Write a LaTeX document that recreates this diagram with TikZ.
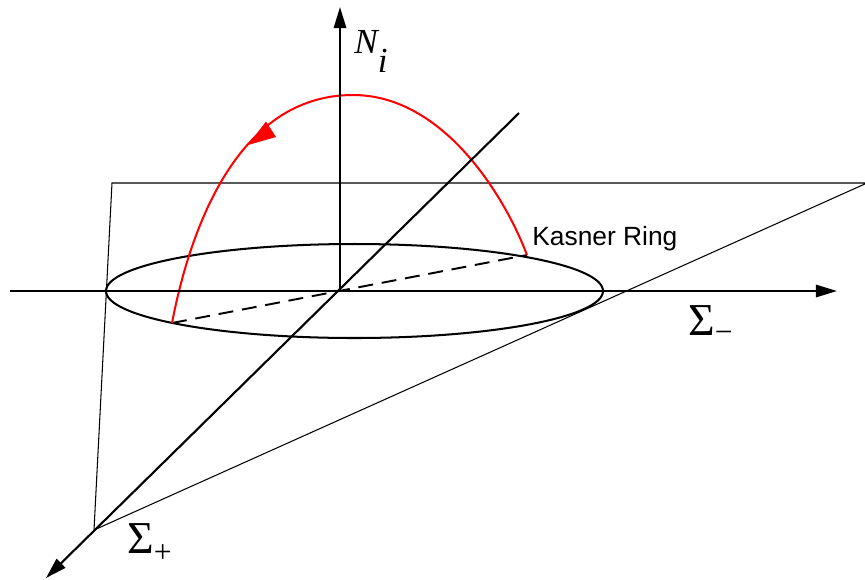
\documentclass[tikz,border=0pt]{standalone}
\usepackage{fontspec}
\setmainfont{Liberation Serif}
\newfontfamily\sansf{Liberation Sans}
\usetikzlibrary{arrows.meta}
\begin{document}
\begin{tikzpicture}[x=0.02cm,y=-0.02cm,
  axis/.style={line width=1.2pt,-{Triangle[length=12pt,width=7pt]}},
  planeline/.style={line width=0.6pt},
  ring/.style={line width=1.15pt},
  ringdash/.style={line width=1.1pt,dash pattern=on 8.5pt off 5pt},
  redarc/.style={red,line width=1.15pt},
  lbl/.style={inner sep=0pt,anchor=base west}]
\useasboundingbox (0,0) rectangle (865,579);
% coordinates
\coordinate (O) at (340,291);
\coordinate (ytop) at (340,7);
\coordinate (xl) at (10,291);
\coordinate (xr) at (837,291);
\coordinate (dtop) at (519,113);
\coordinate (dbot) at (46,578);
\coordinate (P1) at (112,183);
\coordinate (P2) at (867,183);
\coordinate (P3) at (94,530);
\coordinate (kL) at (172,323);
\coordinate (kR) at (527,255);
\coordinate (ktop) at (353,95);
\coordinate (tip) at (248,145);
\coordinate (tb1) at (266,121.5);
\coordinate (tb2) at (276,137);
% plane
\draw[planeline] (P1) -- (P2) -- (P3) -- cycle;
% Kasner ring
\draw[ring] (354.5,291) ellipse [x radius=248.5, y radius=47];
\draw[ringdash] (kL) -- (kR);
% red trajectory
\draw[redarc] (kR) .. controls (504.6,195.8) and (443,95) .. (ktop)
  .. controls (236,95) and (189.5,232) .. (kL);
\fill[red] (tip) -- (tb1) -- (tb2) -- cycle;
% axes
\draw[axis] (O) -- (ytop);
\draw[axis] (xl) -- (xr);
\draw[axis] (dtop) -- (dbot);
% labels
\node[lbl] (Ni) at (354,53) {\fontsize{20}{20}\selectfont\itshape N\raisebox{-11.3pt}{i}};
\node[lbl] (Sm) at (688,335) {\fontsize{26}{26}\selectfont Σ\raisebox{-4.5pt}{\fontsize{18}{18}\selectfont −}};
\node[lbl] (Sp) at (127,553) {\fontsize{26}{26}\selectfont Σ\raisebox{-5.5pt}{\fontsize{18}{18}\selectfont +}};
\node[lbl] (KR) at (532,245) {\sansf\fontsize{15}{15}\selectfont Kasner Ring};
\end{tikzpicture}
\end{document}
